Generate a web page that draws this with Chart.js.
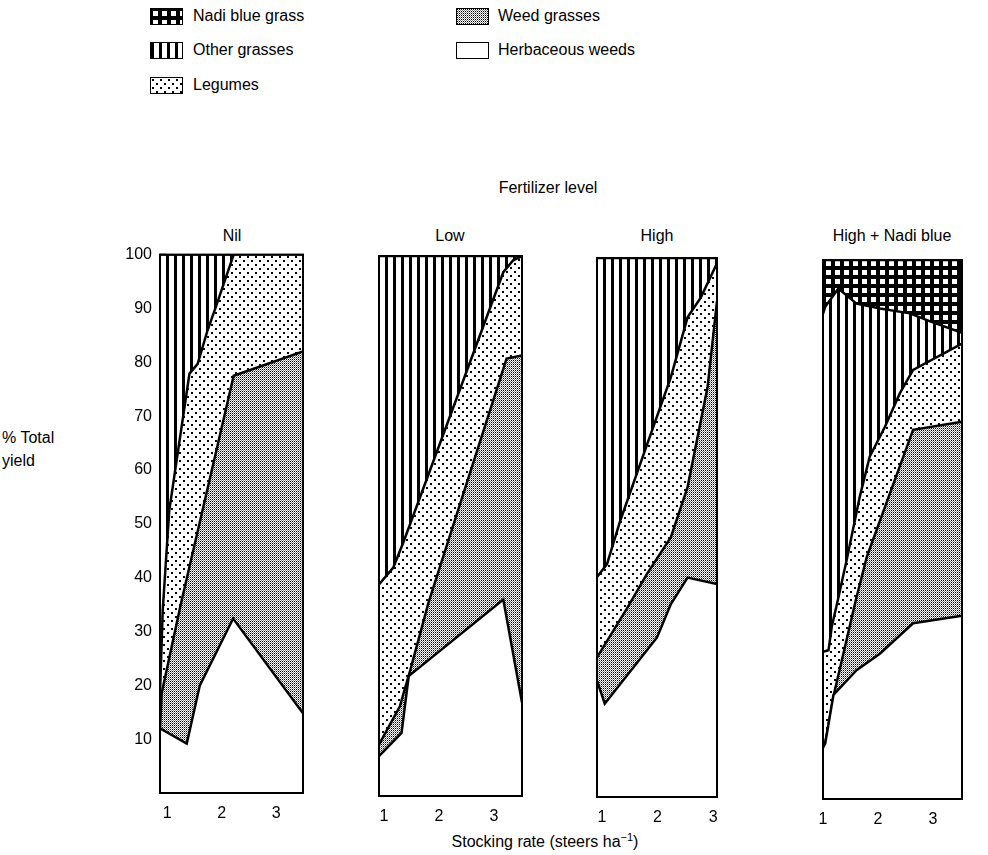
<!DOCTYPE html>
<html>
<head>
<meta charset="utf-8">
<script src="https://cdn.jsdelivr.net/npm/chart.js@4.4.1/dist/chart.umd.min.js"></script>
<style>
  body { margin:0; background:#fff; width:988px; height:855px; position:relative; overflow:hidden;
         font-family:"Liberation Sans", Arial, sans-serif; color:#000; }
  .t { position:absolute; font-size:16px; line-height:18px; white-space:nowrap; }
  .c { text-align:center; }
  .sw { position:absolute; box-sizing:border-box; width:33px; height:17px; border:1.5px solid #000; background:#fff; }
  canvas { position:absolute; }
  sup { font-size:11px; line-height:0; }
</style>
</head>
<body>

<div class="sw" id="swNadi" style="left:150px;top:8px"></div>
<div class="t" style="left:193px;top:7px">Nadi blue grass</div>
<div class="sw" id="swOther" style="left:150px;top:42px"></div>
<div class="t" style="left:193px;top:41px">Other grasses</div>
<div class="sw" id="swLeg" style="left:150px;top:77px"></div>
<div class="t" style="left:193px;top:76px">Legumes</div>
<div class="sw" id="swWeed" style="left:456px;top:8px"></div>
<div class="t" style="left:498px;top:7px">Weed grasses</div>
<div class="sw" id="swHerb" style="left:456px;top:42px"></div>
<div class="t" style="left:498px;top:41px">Herbaceous weeds</div>

<div class="t c" style="left:448px;width:200px;top:179px">Fertilizer level</div>
<div class="t c" style="left:182px;width:100px;top:227px">Nil</div>
<div class="t c" style="left:400px;width:100px;top:227px">Low</div>
<div class="t c" style="left:607px;width:100px;top:227px">High</div>
<div class="t c" style="left:792px;width:200px;top:227px">High + Nadi blue</div>

<div class="t" style="left:2px;top:429px">% Total</div>
<div class="t" style="left:2px;top:452px">yield</div>
<div class="t c" style="left:395px;width:300px;top:833px">Stocking rate (steers ha<sup>&minus;1</sup>)</div>

<canvas id="pNil" width="213" height="598" style="left:110px;top:231px"></canvas>
<canvas id="pLow" width="189" height="586" style="left:353px;top:246px"></canvas>
<canvas id="pHigh" width="166" height="585" style="left:571px;top:248px"></canvas>
<canvas id="pNadi" width="185" height="585" style="left:797px;top:250px"></canvas>

<script>
/* ==========================
   DATA  ([stocking rate, % total yield] along each layer's upper edge)
========================== */
const xTicks = [1, 2, 3];
const yTicks = [10, 20, 30, 40, 50, 60, 70, 80, 90, 100];

// Nil
const nilHerb   = [[0.87,12],[1.36,9.2],[1.6,20],[2.21,32.4],[3.49,14.8]];
const nilWeed   = [[0.87,12],[0.9,18.5],[1.25,35],[2.22,77.5],[3.49,82]];
const nilLegume = [[0.87,18.5],[0.92,34],[1.04,52.5],[1.41,77.9],[1.56,79.7],[1.74,85.9],[1.89,90.2],[2.22,100],[3.49,100]];
const nilOther  = [[0.87,100],[3.49,100]];

// Low
const lowHerb   = [[0.91,7.4],[1.32,11.7],[1.45,22.2],[3.17,36.4],[3.51,17.3]];
const lowWeed   = [[0.91,9.5],[1.29,16.6],[1.35,18.8],[1.47,23],[1.81,35.8],[3.23,81],[3.51,81.6]];
const lowLegume = [[0.91,39.2],[1.17,42.3],[1.35,46.9],[3.17,97],[3.35,99.2],[3.51,100]];
const lowOther  = [[0.91,100],[3.51,100]];

// High
const highHerb   = [[0.91,21.6],[1.05,17.3],[1.99,29.6],[2.24,35.8],[2.54,40.7],[3.07,39.5]];
const highWeed   = [[0.91,25.9],[1.45,35],[1.81,41.4],[2.24,48.2],[2.54,57.5],[2.9,76],[3.07,92]];
const highLegume = [[0.91,40.8],[1.09,43.2],[1.33,51.3],[1.75,63.6],[2.24,77.9],[2.54,89],[2.78,92.7],[3.07,99]];
const highOther  = [[0.91,100],[3.07,100]];

// High + Nadi blue
const nadiHerb   = [[1.0,9.5],[1.04,10.3],[1.19,19.3],[1.61,23.9],[2.04,27],[2.64,32.6],[3.53,34]];
const nadiWeed   = [[1.0,9.5],[1.04,10.3],[1.2,19.5],[1.6,37],[1.8,45],[2.64,68.5],[3.53,70]];
const nadiLegume = [[1.0,27.3],[1.1,27.6],[1.16,32],[1.25,36],[1.43,44.3],[1.67,56.1],[1.85,63.5],[2.13,69.1],[2.4,75.3],[2.64,79.6],[3.53,84.5]];
const nadiOther  = [[1.0,90],[1.04,91.3],[1.28,94.7],[1.61,91.9],[2.04,91],[2.58,90.1],[2.95,88.6],[3.53,86.5]];
const nadiNadi   = [[1.0,100],[3.53,100]];

/* ==========================
   PATTERNS
========================== */
function tile(w, h, draw) {
  const c = document.createElement("canvas");
  c.width = w; c.height = h;
  const g = c.getContext("2d");
  g.fillStyle = "#fff"; g.fillRect(0, 0, w, h);
  g.fillStyle = "#000";
  draw(g);
  return c;
}

const tiles = {
  nadi: tile(9, 9, g => { g.fillRect(0, 0, 9, 9); g.fillStyle = "#fff"; g.fillRect(2, 2, 5, 5); }),
  other: tile(8, 8, g => g.fillRect(0, 0, 3, 8)),
  legume: tile(8, 8, g => { g.fillRect(1, 1, 2, 2); g.fillRect(5, 5, 2, 2); }),
  weed: tile(2, 2, g => { g.fillRect(0, 0, 1, 1); g.fillStyle = "#8c8c8c"; g.fillRect(1, 1, 1, 1); }),
  herb: tile(2, 2, g => {})
};

const pctx = document.createElement("canvas").getContext("2d");
const fills = {};
Object.keys(tiles).forEach(k => fills[k] = pctx.createPattern(tiles[k], "repeat"));

[["swNadi","nadi"],["swOther","other"],["swLeg","legume"],["swWeed","weed"],["swHerb","herb"]]
  .forEach(([id, k]) => document.getElementById(id).style.backgroundImage = `url(${tiles[k].toDataURL()})`);

/* ==========================
   PANELS
========================== */
const font = { family: '"Liberation Sans", Arial, sans-serif', size: 16 };

const framePlugin = {
  id: "frame",
  afterDraw(chart) {
    const a = chart.chartArea, g = chart.ctx;
    g.save();
    g.strokeStyle = "#000";
    g.lineWidth = 2;
    g.strokeRect(a.left, a.top, a.right - a.left, a.bottom - a.top);
    g.restore();
  }
};

function panel(id, xmin, xmax, layers, showY) {
  new Chart(document.getElementById(id), {
    type: "line",
    data: {
      // first layer (bottom) is painted last, each fill runs down to 0
      datasets: layers.map(([pts, k]) => ({
        data: pts.map(p => ({ x: p[0], y: p[1] })),
        backgroundColor: fills[k],
        borderColor: "#000",
        borderWidth: 2.5,
        fill: "start",
        pointRadius: 0,
        tension: 0
      }))
    },
    options: {
      responsive: false,
      animation: false,
      events: [],
      layout: { padding: { top: 10, right: 20, left: 0, bottom: 0 } },
      plugins: { legend: { display: false }, tooltip: { enabled: false } },
      scales: {
        x: {
          type: "linear", min: xmin, max: xmax, z: 1,
          afterBuildTicks: s => { s.ticks = xTicks.map(v => ({ value: v })); },
          afterFit: s => { s.height = 36; },
          grid: { drawOnChartArea: false, tickLength: -6, tickWidth: 1.5, color: "#000" },
          border: { display: false },
          ticks: { padding: 17, color: "#000", font: font, maxRotation: 0 }
        },
        y: {
          type: "linear", min: 0, max: 100, z: 1,
          afterBuildTicks: s => { s.ticks = yTicks.map(v => ({ value: v })); },
          afterFit: s => { s.width = showY ? 50 : 26; },
          grid: { drawOnChartArea: false, tickLength: -6, tickWidth: 1.5, color: "#000" },
          border: { display: false },
          ticks: { display: showY, padding: 14, color: "#000", font: font }
        }
      }
    },
    plugins: [framePlugin]
  });
}

panel("pNil", 0.87, 3.49, [[nilHerb,"herb"],[nilWeed,"weed"],[nilLegume,"legume"],[nilOther,"other"]], true);
panel("pLow", 0.91, 3.51, [[lowHerb,"herb"],[lowWeed,"weed"],[lowLegume,"legume"],[lowOther,"other"]], false);
panel("pHigh", 0.91, 3.07, [[highHerb,"herb"],[highWeed,"weed"],[highLegume,"legume"],[highOther,"other"]], false);
panel("pNadi", 1.0, 3.53, [[nadiHerb,"herb"],[nadiWeed,"weed"],[nadiLegume,"legume"],[nadiOther,"other"],[nadiNadi,"nadi"]], false);
</script>
</body>
</html>
